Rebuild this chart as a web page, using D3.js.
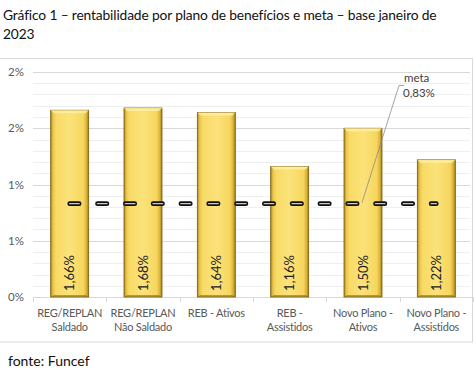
<!DOCTYPE html>
<html><head><meta charset="utf-8">
<script src="https://cdn.jsdelivr.net/npm/d3@7"></script>
<style>body{margin:0;background:#fff}svg{display:block}</style>
</head><body>
<svg id="c" width="474" height="378"></svg>
<script>
const categories = ["REG/REPLAN\nSaldado","REG/REPLAN\nNão Saldado","REB - Ativos","REB -\nAssistidos","Novo Plano -\nAtivos","Novo Plano -\nAssistidos"];
const values = [1.66, 1.68, 1.64, 1.16, 1.50, 1.22];
const valueLabels = ["1,66%","1,68%","1,64%","1,16%","1,50%","1,22%"];
const metaValues = [0.83, 0.83, 0.83, 0.83, 0.83, 0.83];
const metaLabel = ["meta","0,83%"];
const tickValues = [0, 0.5, 1, 1.5, 2];
const tickLabels = ["0%","1%","1%","2%","2%"];
const titleLines = ["Gráfico 1 – rentabilidade por plano de benefícios e meta – base janeiro de","2023"];
const source = "fonte: Funcef";

const svg = d3.select("#c");
const font = "Lato, 'Open Sans', sans-serif";
const defs = svg.append("defs");
const g1 = defs.append("linearGradient").attr("id","gold").attr("x1","0").attr("x2","1").attr("y1","0").attr("y2","0");
[["0%","#a88418"],["6%","#e9c54a"],["14%","#f8da66"],["50%","#fbe27a"],["86%","#f6d65e"],["94%","#dcb53a"],["100%","#9c7a14"]]
  .forEach(([o,c])=>g1.append("stop").attr("offset",o).attr("stop-color",c));

// title
svg.append("g").selectAll("text").data(titleLines).join("text")
  .attr("x",3).attr("y",(d,i)=>20+i*19).attr("font-family",font).attr("font-size",13.8).attr("letter-spacing",-0.15)
  .attr("fill","#111").text(d=>d);

// chart border
svg.append("rect").attr("x",-1).attr("y",58.5).attr("width",473.5).attr("height",283.5)
  .attr("fill","none").attr("stroke","#d9d9d9").attr("stroke-width",1);

const x = d3.scaleBand().domain(categories).range([33,473]).paddingInner(0).paddingOuter(0);
const y = d3.scaleLinear().domain([0,2]).range([297,72]);

// minor gridlines
const minor = d3.range(1,20).map(i=>i/10).filter(v=>Math.abs(v*2-Math.round(v*2))>1e-6);
svg.append("g").selectAll("line").data(minor).join("line")
  .attr("x1",33).attr("x2",470).attr("y1",d=>Math.round(y(d))+0.5).attr("y2",d=>Math.round(y(d))+0.5)
  .attr("stroke","#efefef");
svg.append("g").selectAll("line").data(tickValues.slice(1)).join("line")
  .attr("x1",33).attr("x2",470).attr("y1",d=>Math.round(y(d))+0.5).attr("y2",d=>Math.round(y(d))+0.5)
  .attr("stroke","#d9d9d9");

// y axis
const ya = svg.append("g").attr("transform","translate(28,0)")
  .call(d3.axisLeft(y).tickValues(tickValues).tickSize(0).tickPadding(0).tickFormat((d,i)=>tickLabels[i]));
ya.select(".domain").remove();
ya.selectAll("text").attr("font-family",font).attr("font-size",11.5).attr("fill","#595959").attr("x",-4);

// x axis line and ticks
svg.append("line").attr("x1",33).attr("x2",473).attr("y1",297.5).attr("y2",297.5).attr("stroke","#d9d9d9");
svg.append("g").selectAll("line").data(categories.concat([null])).join("line")
  .attr("x1",(d,i)=>Math.round(33+i*x.step())+0.5).attr("x2",(d,i)=>Math.round(33+i*x.step())+0.5)
  .attr("y1",297).attr("y2",302).attr("stroke","#d9d9d9");

// bars
const bw = 38;
const bars = svg.append("g").selectAll("g").data(values).join("g")
  .attr("transform",(d,i)=>`translate(${x(categories[i])+x.bandwidth()/2-bw/2},0)`);
bars.append("rect").attr("x",0).attr("width",bw).attr("y",d=>y(d)).attr("height",d=>y(0)-y(d))
  .attr("fill","url(#gold)").attr("stroke","#7a5e10").attr("stroke-width",0.8);
bars.append("path").attr("d",d=>`M0,${y(d)} L${bw},${y(d)} L${bw-3},${y(d)+3} L3,${y(d)+3} Z`).attr("fill","#fff0a8").attr("opacity",0.8);
bars.append("path").attr("d",d=>`M0,${y(0)} L${bw},${y(0)} L${bw-3},${y(0)-2} L3,${y(0)-2} Z`).attr("fill","#8a6a12").attr("opacity",0.6);

// meta dashed line
const line = d3.line().x((d,i)=>x(categories[i])+x.bandwidth()/2).y(d=>y(d));
svg.append("path").attr("d",line(metaValues)).attr("fill","none").attr("stroke","#111")
  .attr("stroke-width",4.6).attr("stroke-linecap","round").attr("stroke-dasharray","9.5,18.3");
svg.append("path").attr("d",line(metaValues)).attr("fill","none").attr("stroke","#c8c8c8")
  .attr("stroke-width",1.4).attr("stroke-linecap","round").attr("stroke-dasharray","9.5,18.3");

// value labels
svg.append("g").selectAll("text").data(values).join("text")
  .attr("transform",(d,i)=>`translate(${x(categories[i])+x.bandwidth()/2+4.5},291) rotate(-90)`)
  .attr("font-family",font).attr("font-size",13).attr("fill","#222").text((d,i)=>valueLabels[i]);

// meta annotation
const mx = x(categories[4])+x.bandwidth()/2, my = y(metaValues[4]);
svg.append("path").attr("d",`M${mx-1},${my-1} L399,85.5 L404,85.5`).attr("fill","none").attr("stroke","#8c8c8c").attr("stroke-width",0.8);
svg.append("g").selectAll("text").data(metaLabel).join("text")
  .attr("x",(d,i)=>i===0?404:403).attr("y",(d,i)=>82+i*15).attr("font-family",font).attr("font-size",11.5).attr("fill","#404040").text(d=>d);

// category labels
const cl = svg.append("g").selectAll("text").data(categories).join("text")
  .attr("x",d=>x(d)+x.bandwidth()/2).attr("y",317).attr("text-anchor","middle")
  .attr("font-family",font).attr("font-size",11).attr("letter-spacing",-0.25).attr("fill","#595959");
cl.selectAll("tspan").data(d=>d.split("\n")).join("tspan")
  .attr("x",function(){return this.parentNode.getAttribute("x");}).attr("dy",(d,i)=>i===0?0:14).text(d=>d);

svg.append("text").attr("x",8).attr("y",366).attr("font-family",font).attr("font-size",14).attr("fill","#111").text(source);
</script>
</body></html>
